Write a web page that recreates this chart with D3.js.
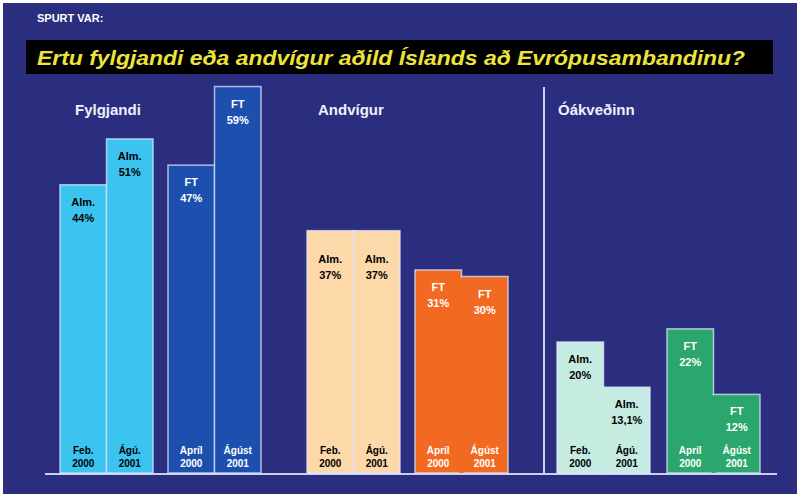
<!DOCTYPE html>
<html><head><meta charset="utf-8">
<script src="https://cdn.jsdelivr.net/npm/d3@7"></script>
<style>body{margin:0;background:#fff}svg{display:block}</style>
</head><body><svg id="c" width="802" height="499"></svg>
<script>
const groups = ["Fylgjandi", "Andvígur", "Óákveðinn"];
const series = ["Alm.", "Alm.", "FT", "FT"];
const dates = [["Feb.", "2000"], ["Ágú.", "2001"], ["Apríl", "2000"], ["Ágúst", "2001"]];
const fylgjandi = [44, 51, 47, 59];
const andvigur = [37, 37, 31, 30];
const oakvedinn = [20, 13.1, 22, 12];
const valueLabels = [["44%", "51%", "47%", "59%"], ["37%", "37%", "31%", "30%"], ["20%", "13,1%", "22%", "12%"]];
const values = [fylgjandi, andvigur, oakvedinn];
// pairs drawn as one merged block (no separator line): [group, pairIndex]
const mergedPairs = [[1, 1], [2, 0], [2, 1]];

const fills = [["#3cc4f0", "#3cc4f0", "#1c4fae", "#1c4fae"],
               ["#fdd8a8", "#fdd8a8", "#f26a22", "#f26a22"],
               ["#c6ebe0", "#c6ebe0", "#2ba66c", "#2ba66c"]];
const textCol = [["#000", "#000", "#fff", "#fff"], ["#000", "#000", "#fff", "#fff"], ["#000", "#000", "#fff", "#fff"]];

const svg = d3.select("#c");
svg.append("rect").attr("x", 3).attr("y", 3).attr("width", 794).attr("height", 491).attr("fill", "#2b2e7e");

svg.append("text").attr("x", 37).attr("y", 22).text("SPURT VAR:")
  .attr("fill", "#fff").attr("font-family", "Liberation Sans, Arial, sans-serif").attr("font-weight", "bold").attr("font-size", 11);
svg.append("rect").attr("x", 26).attr("y", 40).attr("width", 747).attr("height", 34).attr("fill", "#000");
svg.append("text").attr("x", 37).attr("y", 65)
  .text("Ertu fylgjandi eða andvígur aðild Íslands að Evrópusambandinu?")
  .attr("fill", "#ece33c").attr("font-family", "Liberation Sans Narrow, Liberation Sans, Arial, sans-serif")
  .attr("font-weight", "bold").attr("font-style", "italic").attr("font-size", 21)
  .attr("textLength", 708).attr("lengthAdjust", "spacingAndGlyphs");

const y = d3.scaleLinear().domain([0, 60]).range([473, 80]);
const groupStart = [60, 307, 557];
const barW = 46.5;
const gapFT = [15, 15, 17];
const xBar = (g, i) => groupStart[g] + (i < 2 ? i * barW : 2 * barW + gapFT[g] + (i - 2) * barW);

// baseline and separator
svg.append("line").attr("x1", 45).attr("x2", 777).attr("y1", 474).attr("y2", 474).attr("stroke", "#c8d2f0").attr("stroke-width", 2);
svg.append("line").attr("x1", 544).attr("x2", 544).attr("y1", 87).attr("y2", 474).attr("stroke", "#c8d2f0").attr("stroke-width", 2);

const labelX = [75, 318, 558];
groups.forEach((gname, g) => {
  svg.append("text").attr("x", labelX[g]).attr("y", 115).text(gname)
    .attr("fill", "#f0f0ff").attr("font-family", "Liberation Sans, Arial, sans-serif").attr("font-weight", "bold").attr("font-size", 15);
  values[g].forEach((v, i) => {
    const x0 = xBar(g, i);
    svg.append("rect").attr("x", x0).attr("y", y(v)).attr("width", barW).attr("height", y(0) - y(v))
      .attr("fill", fills[g][i]).attr("stroke", "#dfe6ff").attr("stroke-width", 1.5).attr("stroke-opacity", 0.75);
  });
  mergedPairs.filter(p => p[0] === g).forEach(p => {
    const i = p[1] * 2;
    const lower = Math.min(values[g][i], values[g][i + 1]);
    svg.append("rect").attr("x", xBar(g, i + 1) - 2).attr("y", y(lower) + 1)
      .attr("width", 4).attr("height", y(0) - y(lower) - 1).attr("fill", fills[g][i]);
  });
  values[g].forEach((v, i) => {
    const cx = xBar(g, i) + barW / 2;
    const t = y(v);
    const off = g === 1 && i < 2 ? 32 : 21;
    const txt = svg.append("g").attr("fill", textCol[g][i]).attr("font-family", "Liberation Sans Narrow, Liberation Sans, Arial, sans-serif")
      .attr("font-weight", "bold").attr("font-size", 11).attr("text-anchor", "middle");
    txt.append("text").attr("x", cx).attr("y", t + off).text(series[i]);
    txt.append("text").attr("x", cx).attr("y", t + off + 16).text(valueLabels[g][i]);
    txt.append("text").attr("x", cx).attr("y", 454).attr("font-size", 10).text(dates[i][0]);
    txt.append("text").attr("x", cx).attr("y", 467).attr("font-size", 10).text(dates[i][1]);
  });
});
</script></body></html>
